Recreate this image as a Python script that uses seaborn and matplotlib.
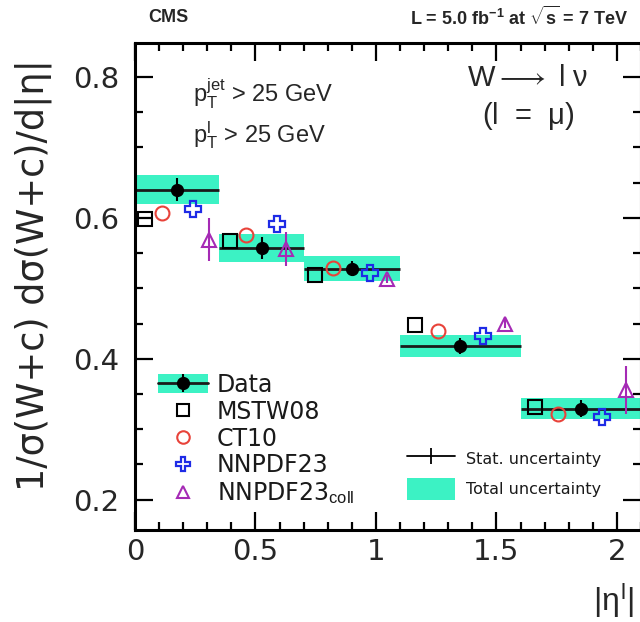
import numpy as np
import matplotlib
matplotlib.use("Agg")
import matplotlib.pyplot as plt
from matplotlib.lines import Line2D
from matplotlib.patches import Patch
from matplotlib.legend_handler import HandlerTuple
from matplotlib.ticker import MultipleLocator
import seaborn as sns

# |eta| bins and normalised W+c cross sections
bin_lo = [0.0, 0.35, 0.7, 1.1, 1.6]
bin_hi = [0.35, 0.7, 1.1, 1.6, 2.1]
data_val = [0.640, 0.557, 0.528, 0.418, 0.329]
data_stat = [0.016, 0.016, 0.011, 0.011, 0.012]
data_tot = [0.020, 0.020, 0.018, 0.015, 0.015]

# theory predictions (x inside each bin, value)
mstw_x = [0.04, 0.394, 0.747, 1.162, 1.66]
mstw_y = [0.598, 0.567, 0.519, 0.448, 0.331]
ct10_x = [0.11, 0.459, 0.823, 1.256, 1.754]
ct10_y = [0.607, 0.576, 0.529, 0.439, 0.321]
nnpdf_x = [0.242, 0.59, 0.975, 1.443, 1.94]
nnpdf_y = [0.613, 0.591, 0.522, 0.432, 0.318]
coll_x = [0.307, 0.625, 1.047, 1.535, 2.036]
coll_y = [0.569, 0.556, 0.513, 0.450, 0.356]
coll_err = [0.031, 0.024, 0.006, 0.006, 0.034]

TEAL = "#3CF2C4"
RED = "#E8433A"
BLUE = "#1E2BE6"
PURPLE = "#A52AB5"
WIDE = ["DejaVu Sans"]

sns.set_theme(style="ticks")
plt.rcParams["font.family"] = ["Liberation Sans", "DejaVu Sans"]
plt.rcParams["mathtext.fontset"] = "custom"
plt.rcParams["mathtext.rm"] = "Liberation Sans"
plt.rcParams["mathtext.it"] = "Liberation Sans"
plt.rcParams["mathtext.bf"] = "Liberation Sans:bold"
plt.rcParams["mathtext.sf"] = "Liberation Sans"

W, H = 640, 622
fig = plt.figure(figsize=(W / 100, H / 100), dpi=100)
ax = fig.add_axes([135 / W, 1 - 530 / H, (641 - 135) / W, (530 - 43) / H])

def px(x, y):
    return x / W, 1 - y / H

lo = np.array(bin_lo)
hi = np.array(bin_hi)
val = np.array(data_val)
tot = np.array(data_tot)
centers = (lo + hi) / 2

# total uncertainty bands
ax.bar(centers, 2 * tot, bottom=val - tot, width=hi - lo, color=TEAL,
       edgecolor="none", zorder=1)
# bin-width lines
ax.hlines(val, lo, hi, color="#1a1a1a", lw=2.0, zorder=2)
# data with statistical uncertainty
ax.errorbar(centers, val, yerr=data_stat, fmt="o", color="black", ms=8.5,
            elinewidth=1.5, capsize=0, zorder=5)

# theory predictions
ax.plot(mstw_x, mstw_y, ls="none", marker="s", ms=10, mfc="none",
        mec="black", mew=1.5, zorder=4)
ax.plot(ct10_x, ct10_y, ls="none", marker="o", ms=10, mfc="none",
        mec=RED, mew=1.5, zorder=4)
ax.plot(nnpdf_x, nnpdf_y, ls="none", marker="P", ms=11, mfc="none",
        mec=BLUE, mew=1.6, zorder=4)
ax.errorbar(coll_x, coll_y, yerr=coll_err, fmt="^", ms=10, mfc="none",
            mec=PURPLE, mew=1.5, color=PURPLE, elinewidth=1.5, capsize=0,
            zorder=4)

ax.set_xlim(0, 2.1)
ax.set_ylim(0.157, 0.848)
ax.xaxis.set_major_locator(MultipleLocator(0.5))
ax.xaxis.set_minor_locator(MultipleLocator(0.1))
ax.yaxis.set_major_locator(MultipleLocator(0.2))
ax.yaxis.set_minor_locator(MultipleLocator(0.05))
ax.set_xticks([0, 0.5, 1, 1.5, 2])
ax.set_xticklabels(["0", "0.5", "1", "1.5", "2"], family=WIDE, fontsize=21)
ax.set_yticks([0.2, 0.4, 0.6, 0.8])
ax.set_yticklabels(["0.2", "0.4", "0.6", "0.8"], family=WIDE, fontsize=21)
ax.tick_params(which="both", direction="in", top=True, right=True,
               color="black", width=1.6)
ax.tick_params(which="major", length=13)
ax.tick_params(axis="x", which="major", pad=6)
ax.tick_params(axis="y", which="major", pad=11)
ax.tick_params(which="minor", length=6)
for s in ax.spines.values():
    s.set_linewidth(2.2)
    s.set_color("black")

ax.set_ylabel("1/σ(W+c) dσ(W+c)/d|η|", fontsize=26.5, family=WIDE)
ax.yaxis.set_label_coords((33 - 135) / 506, (530 - 275) / 487)
ax.yaxis.label.set_va("center")
fig.text(*px(634, 600), r"|$\eta^\mathrm{l}$|", fontsize=23, ha="right",
         va="center")

# header
fig.text(*px(168, 17), "CMS", fontsize=13, fontweight="bold",
         ha="center", va="center")
fig.text(*px(628, 17),
         r"L = 5.0 fb$^{\mathbf{-1}}$ at $\mathbf{\sqrt{s}}$ = 7 TeV",
         fontsize=13, fontweight="bold", ha="right", va="center")

# selection and channel labels
fig.text(*px(193, 102), r"$\mathrm{p}_\mathrm{T}^\mathrm{jet}$ > 25 GeV",
         fontsize=17, ha="left", va="baseline")
fig.text(*px(193, 142), r"$\mathrm{p}_\mathrm{T}^\mathrm{l}$ > 25 GeV",
         fontsize=17, ha="left", va="baseline")
fig.text(*px(528, 78), r"W$\longrightarrow$ l $\nu$", fontsize=21,
         ha="center", va="center")
fig.text(*px(528, 116), r"(l  =  $\mu$)", fontsize=21,
         ha="center", va="center")

# legend of measurement and predictions
h_data = (Patch(facecolor=TEAL, edgecolor="none"),
          Line2D([], [], color="#1a1a1a", lw=2.0),
          Line2D([], [], ls="none", marker="|", color="black", ms=13,
                 mew=1.5),
          Line2D([], [], ls="none", marker="o", color="black", ms=8.5))
h_mstw = Line2D([], [], ls="none", marker="s", ms=9, mfc="none",
                mec="black", mew=1.5)
h_ct10 = Line2D([], [], ls="none", marker="o", ms=9, mfc="none",
                mec=RED, mew=1.5)
h_nnpdf = Line2D([], [], ls="none", marker="P", ms=10, mfc="none",
                 mec=BLUE, mew=1.6)
h_coll = Line2D([], [], ls="none", marker="^", ms=9, mfc="none",
                mec=PURPLE, mew=1.5)
leg1 = ax.legend([h_data, h_mstw, h_ct10, h_nnpdf, h_coll],
                 ["Data", "MSTW08", "CT10", "NNPDF23",
                  r"NNPDF23$_\mathrm{coll}$"],
                 handler_map={tuple: HandlerTuple(ndivide=1, pad=0)},
                 loc="upper left", bbox_to_anchor=px(158, 373),
                 bbox_transform=fig.transFigure, frameon=False,
                 prop={"family": WIDE, "size": 17},
                 handlelength=2.1, handleheight=0.85,
                 handletextpad=0.4, labelspacing=0.12, borderpad=0,
                 borderaxespad=0)
for t in leg1.get_texts():
    t.set_color("#1a1a1a")
ax.add_artist(leg1)

# legend of uncertainty types
h_stat = Line2D([], [], color="black", lw=1.3, marker="|", ms=12, mew=1.3)
h_tot = Patch(facecolor=TEAL, edgecolor="none")
leg2 = ax.legend([h_stat, h_tot], ["Stat. uncertainty", "Total uncertainty"],
                 loc="upper left", bbox_to_anchor=px(407, 448),
                 bbox_transform=fig.transFigure, frameon=False,
                 prop={"family": WIDE, "size": 11.5},
                 handlelength=3.0, handleheight=1.75,
                 handletextpad=0.7, labelspacing=0.5, borderpad=0,
                 borderaxespad=0)
for t in leg2.get_texts():
    t.set_color("#1a1a1a")

fig.savefig("out.png", dpi=100)
